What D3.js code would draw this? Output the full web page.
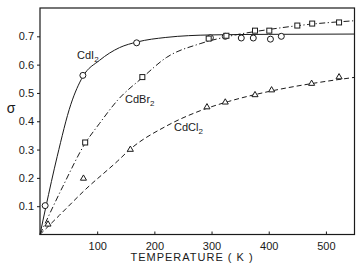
<!DOCTYPE html>
<html>
<head>
<meta charset="utf-8">
<script src="https://cdn.jsdelivr.net/npm/d3@7"></script>
<style>
  body { margin: 0; background: #fff; }
  svg { font-family: "Liberation Sans", Arial, sans-serif; }
</style>
</head>
<body>
<svg id="chart" width="364" height="268"></svg>
<script>
// --- data ---
const xTicks = [100, 200, 300, 400, 500];
const yTicks = [0.1, 0.2, 0.3, 0.4, 0.5, 0.6, 0.7];

// measured points (T in K, q)
const cdi2Pts = [[9, 0.102], [75, 0.562], [169, 0.677], [298, 0.695], [324, 0.700],
  [352, 0.694], [373, 0.694], [403, 0.690], [422, 0.700]];
const cdbr2Pts = [[79, 0.325], [179, 0.556], [295, 0.692], [326, 0.702], [376, 0.720],
  [401, 0.720], [450, 0.738], [476, 0.745], [523, 0.749]];
const cdcl2Pts = [[14, 0.036], [76, 0.198], [158, 0.300], [292, 0.450], [324, 0.467],
  [376, 0.493], [405, 0.510], [475, 0.533], [523, 0.556]];

// drawn curves
const cdi2Curve = [[0, 0], [10, 0.095], [30, 0.275], [54, 0.46], [75, 0.558], [104, 0.615],
  [139, 0.66], [170, 0.68], [220, 0.696], [300, 0.705], [400, 0.707], [550, 0.708]];
const cdbr2Curve = [[0, 0], [40, 0.17], [79, 0.322], [104, 0.392], [136, 0.475], [179, 0.554],
  [221, 0.625], [280, 0.674], [330, 0.70], [400, 0.724], [470, 0.742], [550, 0.755]];
const cdcl2Curve = [[0, 0], [34, 0.068], [80, 0.16], [136, 0.26], [157, 0.30], [220, 0.382],
  [280, 0.437], [330, 0.47], [400, 0.505], [475, 0.533], [550, 0.555]];

// === SCALES ===
const svg = d3.select("#chart");
const x = d3.scaleLinear().domain([0, 550]).range([40, 354.5]);
const y = d3.scaleLinear().domain([0, 0.8]).range([234.5, 8]);
const ink = "#1a1a1a";

// frame
svg.append("rect")
  .attr("x", x(0)).attr("y", y(0.8))
  .attr("width", x(550) - x(0)).attr("height", y(0) - y(0.8))
  .attr("fill", "none").attr("stroke", ink).attr("stroke-width", 1.2);

// axes
const xAxis = svg.append("g")
  .attr("transform", `translate(0,${y(0)})`)
  .call(d3.axisBottom(x).tickValues(xTicks).tickSizeInner(-3).tickSizeOuter(0).tickPadding(8));
const yAxis = svg.append("g")
  .attr("transform", `translate(${x(0)},0)`)
  .call(d3.axisLeft(y).tickValues(yTicks).tickSizeInner(3).tickSizeOuter(0).tickPadding(3)
    .tickFormat(d3.format(".1f")));
[xAxis, yAxis].forEach(a => {
  a.select(".domain").remove();
  a.selectAll("line").attr("stroke", ink);
  a.selectAll("text").attr("fill", ink).style("font-size", "11px")
    .style("font-family", "'Liberation Sans', Arial, sans-serif");
});

// axis titles
svg.append("text")
  .attr("x", 192).attr("y", 261)
  .attr("text-anchor", "middle")
  .attr("fill", ink)
  .style("font-size", "11px")
  .style("letter-spacing", "1px")
  .text("TEMPERATURE  ( K )");

svg.append("text")
  .attr("x", 11).attr("y", 113)
  .attr("text-anchor", "middle")
  .attr("fill", ink)
  .style("font-size", "14px")
  .text("σ");

// === CURVES ===
const line = d3.line().x(d => x(d[0])).y(d => y(d[1])).curve(d3.curveMonotoneX);
const series = [
  { curve: cdi2Curve, dash: null },
  { curve: cdbr2Curve, dash: "6,2.5,1.2,2.5" },
  { curve: cdcl2Curve, dash: "5,3" }
];
series.forEach(s => {
  svg.append("path")
    .datum(s.curve)
    .attr("d", line)
    .attr("fill", "none")
    .attr("stroke", ink)
    .attr("stroke-width", 1)
    .attr("stroke-dasharray", s.dash);
});

// === MARKERS ===
svg.selectAll(".c").data(cdi2Pts).enter().append("circle")
  .attr("cx", d => x(d[0])).attr("cy", d => y(d[1])).attr("r", 3)
  .attr("fill", "#fff").attr("stroke", ink).attr("stroke-width", 1);

svg.selectAll(".s").data(cdbr2Pts).enter().append("rect")
  .attr("x", d => x(d[0]) - 2.5).attr("y", d => y(d[1]) - 2.5)
  .attr("width", 5).attr("height", 5)
  .attr("fill", "#fff").attr("stroke", ink).attr("stroke-width", 1);

const tri = d3.symbol().type(d3.symbolTriangle).size(16);
svg.selectAll(".t").data(cdcl2Pts).enter().append("path")
  .attr("d", tri)
  .attr("transform", d => `translate(${x(d[0])},${y(d[1])})`)
  .attr("fill", "#fff").attr("stroke", ink).attr("stroke-width", 1);

// === LABELS ===
function label(tx, ty, main) {
  const t = svg.append("text").attr("x", tx).attr("y", ty).attr("fill", ink)
    .style("font-size", "11px");
  t.append("tspan").text(main);
  t.append("tspan").attr("dy", 3).style("font-size", "8px").text("2");
}
label(77, 59, "CdI");
label(125, 103, "CdBr");
label(174, 131, "CdCl");
</script>
</body>
</html>
